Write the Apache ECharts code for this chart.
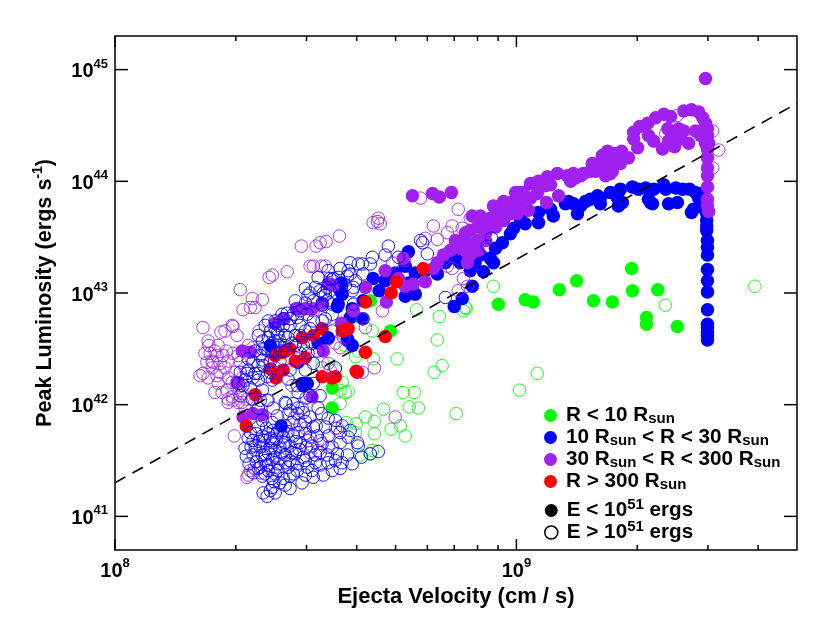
<!DOCTYPE html>
<html>
<head>
<meta charset="utf-8">
<title>Peak Luminosity vs Ejecta Velocity</title>
<script src="https://cdn.jsdelivr.net/npm/echarts@6/dist/echarts.min.js"></script>
<style>
html,body{margin:0;padding:0;background:#fff;}
#chart{width:830px;height:623px;}
</style>
</head>
<body>
<div id="chart"></div>
<script>
// values as [log10 velocity, log10 luminosity]
var greenFilled = [[9.287,43.22],[9.150,43.11],[9.107,43.03],[9.289,43.02],[9.352,43.03],[8.955,42.90],[9.022,42.94],[9.042,42.92],[9.192,42.93],[9.239,42.92],[9.324,42.78],[9.324,42.72],[9.401,42.70],[8.686,42.66],[8.591,42.78],[8.636,42.93],[8.541,42.15],[8.541,41.97]];
var greenOpen = [[8.751,42.85],[8.808,42.79],[8.868,42.84],[8.873,42.87],[8.803,42.58],[8.616,42.77],[8.641,42.66],[8.703,42.41],[8.815,42.35],[8.795,42.29],[8.718,42.11],[8.746,42.11],[8.733,41.98],[8.756,41.97],[8.850,41.92],[8.669,41.96],[8.624,41.89],[8.646,41.85],[8.711,41.81],[8.688,41.78],[8.646,41.74],[8.723,41.72],[8.601,41.83],[8.599,41.75],[8.576,41.84],[8.566,42.20],[8.581,42.12],[8.574,42.11],[8.561,42.13],[8.561,42.01],[8.599,42.43],[8.644,42.41],[8.641,41.59],[8.636,41.56],[8.611,41.55],[8.943,43.06],[8.875,42.86],[9.371,42.89],[9.594,43.06],[9.052,42.28],[9.008,42.13],[8.516,42.39],[8.549,42.31],[8.574,42.53],[8.606,42.48]];
var blueFilled = [[9.474,43.56],[9.476,43.47],[9.476,43.41],[9.476,43.34],[9.476,43.21],[9.476,43.11],[9.476,43.01],[9.476,42.85],[9.476,42.72],[9.476,42.69],[9.476,42.65],[9.476,42.62],[9.476,42.58],[9.474,43.65],[9.474,43.60],[9.474,43.71],[9.466,43.76],[9.454,43.85],
[9.209,43.85],[9.234,43.90],[9.259,43.93],[9.254,43.90],[9.254,43.78],[9.264,43.81],[9.252,43.85],[9.289,43.95],[9.304,43.93],[9.322,43.94],[9.334,43.81],[9.329,43.84],[9.339,43.80],[9.342,43.93],[9.367,43.97],[9.372,43.93],[9.397,43.94],[9.379,43.80],[9.401,43.81],[9.414,43.93],[9.431,43.93],[9.436,43.72],[9.441,43.75],[9.446,43.90],[9.459,43.89],[9.209,43.80],
[9.202,43.87],[9.184,43.84],[9.172,43.82],[9.152,43.71],[9.160,43.78],[9.130,43.82],[9.142,43.80],[9.122,43.80],[9.092,43.69],[9.085,43.75],[9.055,43.63],[9.055,43.72],[9.022,43.62],[9.010,43.66],[8.985,43.53],[8.993,43.58],[8.965,43.45],[8.948,43.40],[8.935,43.31],[8.943,43.27],[8.918,43.19],[8.890,43.06],
[8.731,43.37],[8.723,43.24],[8.848,43.31],[8.823,43.27],[8.803,43.17],[8.748,43.18],[8.731,43.09],[8.748,42.99],[8.723,42.97],[8.643,43.13],[8.658,43.02],[8.865,42.95],[8.845,42.88],[8.564,43.09],[8.566,42.99],[8.554,42.88],[8.618,42.93],[8.618,42.77],[8.591,42.86],[8.586,42.78],[8.531,42.60],[8.579,42.59],[8.561,43.02],[8.556,42.90],[8.454,42.86],[8.581,42.57],[8.506,42.55],[8.479,42.19],[8.466,42.19],[8.414,41.81],[8.469,42.17],[8.387,42.53],[8.424,42.48],[8.456,42.38],[8.673,43.11],[8.698,43.18],[8.773,43.20],[8.885,43.20],[8.897,43.27],[8.910,43.34],[8.860,43.27],[8.591,42.53]];
var blueOpen = [[8.681,43.42],[8.761,43.47],[8.766,43.45],[8.778,43.35],[8.673,43.34],[8.641,43.32],[8.706,43.32],[8.586,43.27],[8.606,43.26],[8.616,43.26],[8.636,43.26],[8.581,43.20],[8.579,43.15],[8.618,43.17],[8.599,43.11],[8.594,43.05],[8.536,43.13],[8.544,43.13],[8.529,43.05],[8.536,43.02],[8.519,43.00],[8.529,42.93],[8.516,42.90],[8.541,42.81],[8.823,42.96],
[8.541,43.12],[8.499,43.05],[8.486,43.00],[8.511,43.02],[8.524,42.98],[8.474,42.91],[8.494,42.93],[8.516,42.89],[8.541,42.90],[8.454,42.78],[8.429,42.82],[8.444,42.81],[8.479,42.81],[8.494,42.75],[8.524,42.77],[8.541,42.66],[8.419,42.71],[8.436,42.71],[8.404,42.64],[8.382,42.60],[8.367,42.57],[8.392,42.55],[8.411,42.57],[8.431,42.60],[8.449,42.62],[8.374,42.50],[8.392,42.48],[8.362,42.44],[8.344,42.38],[8.332,42.31],[8.324,42.22],[8.319,42.17],[8.349,42.28],[8.369,42.35],[8.357,42.22],[8.337,42.15],[8.379,42.25],[8.406,42.62],[8.424,42.53],[8.441,42.55],[8.416,42.48],[8.531,42.59],[8.469,42.53],[8.491,42.55],[8.481,42.46],[8.504,42.48],[8.461,42.46],[8.436,42.31],[8.474,42.31],[8.494,42.37],[8.549,42.33],[8.494,42.19],[8.454,42.17],[8.382,42.75],[8.416,42.81],[8.399,42.75],[8.556,43.14],[8.586,43.17],[8.591,43.02],[8.594,42.90],
[8.426,42.01],[8.444,42.01],[8.456,42.11],[8.404,41.90],[8.454,41.92],[8.469,41.93],[8.486,41.89],[8.441,41.84],[8.461,41.82],[8.494,41.80],[8.514,41.92],[8.524,41.80],[8.357,41.80],[8.337,41.75],[8.382,41.74],[8.404,41.75],[8.344,41.68],[8.324,41.61],[8.369,41.68],[8.392,41.66],[8.419,41.71],[8.444,41.72],[8.474,41.74],[8.504,41.72],[8.531,41.72],[8.561,41.75],[8.581,41.71],[8.604,41.66],[8.561,41.66],[8.541,41.62],[8.516,41.65],[8.491,41.63],[8.461,41.66],[8.436,41.63],[8.411,41.62],[8.387,41.61],[8.362,41.62],[8.344,41.55],[8.374,41.55],[8.399,41.53],[8.424,41.55],[8.449,41.56],[8.469,41.53],[8.499,41.55],[8.529,41.55],[8.554,41.56],[8.579,41.55],[8.606,41.63],[8.591,41.47],[8.566,41.48],[8.561,41.43],[8.541,41.41],[8.519,41.37],[8.499,41.48],[8.479,41.44],[8.474,41.50],[8.454,41.47],[8.431,41.44],[8.406,41.47],[8.382,41.46],[8.357,41.43],[8.344,41.39],[8.374,41.38],[8.399,41.38],[8.419,41.34],[8.444,41.38],[8.466,41.30],[8.494,41.35],[8.436,41.25],[8.411,41.30],[8.392,41.34],[8.387,41.23],[8.369,41.21],[8.399,41.21],[8.379,41.18],[8.392,41.26],[8.424,41.28],[8.362,41.44],[8.656,41.58],[8.636,41.56],[8.614,41.53],
[8.367,41.72],[8.387,41.70],[8.411,41.77],[8.424,41.66],[8.399,41.59],[8.374,41.50],[8.349,41.63],[8.382,41.57],[8.416,41.57],[8.436,41.50],[8.406,41.41],[8.329,42.28],[8.357,42.28],[8.344,42.24],[8.307,42.19],[8.379,42.04],[8.424,42.02],[8.357,41.97],[8.456,41.97],[8.938,43.49],[8.928,43.42],[8.399,42.57],[8.382,42.48],[8.406,42.53],[8.424,42.62],[8.399,42.68],[8.367,42.50],[8.357,42.35],[8.387,42.39],
[8.332,41.70],[8.352,41.74],[8.359,41.67],[8.377,41.79],[8.394,41.77],[8.402,41.69],[8.419,41.64],[8.431,41.76],[8.451,41.67],[8.459,41.60],[8.476,41.62],[8.441,41.57],[8.424,41.48],[8.392,41.51],[8.367,41.55],[8.352,41.49],[8.334,41.47],[8.327,41.54],[8.339,41.62],[8.382,41.41],[8.396,41.31],[8.367,41.36],[8.436,41.36],[8.454,41.41],[8.474,41.37],[8.491,41.41],[8.511,41.46],[8.531,41.48],[8.511,41.57],[8.549,41.50],[8.486,41.71],[8.456,41.75],[8.501,41.81],[8.474,41.85],[8.424,41.81],[8.392,41.84],[8.367,41.86],[8.549,41.86],[8.531,41.88],[8.566,41.81],[8.586,41.77],[8.506,41.97],[8.476,42.06],[8.436,41.95],[8.394,41.97],[8.362,42.04],
[8.312,42.29],[8.332,42.41],[8.349,42.48],[8.367,42.40],[8.387,42.66],[8.374,42.71],[8.357,42.62],[8.406,42.71],[8.421,42.77],[8.436,42.77],[8.461,42.71],[8.474,42.66],[8.449,42.53],[8.461,42.62],[8.486,42.68],[8.509,42.62],[8.516,42.75],[8.481,42.98],[8.461,42.84],[8.561,43.22],[8.574,43.07],[8.531,43.20],[8.506,43.14],[8.474,43.04],[8.449,42.93],[8.399,42.47],[8.387,42.29],[8.411,42.39],[8.392,42.22],[8.431,42.23],[8.511,42.08],[8.486,42.08],[8.367,42.13],[8.312,42.08],[8.342,42.05]];
var purpleFilled = [[9.471,44.92],[9.417,44.63],[9.436,44.64],[9.454,44.62],[9.464,44.57],[9.471,44.52],[9.476,44.47],[9.476,44.41],[9.479,44.34],[9.476,44.29],[9.476,44.21],[9.476,44.12],[9.476,44.05],[9.476,43.95],[9.476,43.84],[9.476,43.78],[9.479,43.73],
[9.384,44.58],[9.367,44.60],[9.347,44.57],[9.327,44.52],[9.307,44.49],[9.292,44.44],[9.292,44.38],[9.302,44.30],[9.279,44.21],[9.262,44.27],[9.242,44.25],[9.227,44.27],[9.214,44.21],[9.234,44.07],[9.239,44.16],[9.217,44.12],[9.252,44.18],[9.209,44.16],[9.329,44.41],[9.342,44.36],[9.377,44.47],[9.379,44.36],[9.394,44.31],[9.364,44.29],[9.404,44.47],[9.417,44.45],[9.409,44.38],[9.429,44.34],[9.397,44.41],[9.446,44.45],[9.459,44.41],[9.471,44.34],
[9.214,44.23],[9.189,44.16],[9.167,44.07],[9.142,44.07],[9.127,44.05],[9.102,44.07],[9.077,44.04],[9.055,44.00],[9.035,43.98],[9.105,43.87],[9.075,43.81],[9.030,43.74],[8.998,43.90],[8.985,43.81],[8.968,43.82],[8.943,43.78],[8.910,43.69],[8.890,43.69],[9.010,43.81],[9.052,43.89],[9.017,43.90],[9.085,43.97],[9.135,44.00],[8.960,43.74],[8.935,43.67],[8.985,43.71],[9.002,43.71],[8.968,43.65],[8.948,43.59],[8.928,43.63],[8.903,43.59],[8.885,43.56],[8.903,43.47],[8.923,43.53],[8.893,43.38],[8.885,43.44],
[8.741,43.87],[8.791,43.89],[8.808,43.86],[8.838,43.90],[8.865,43.47],[8.878,43.43],[8.860,43.40],[8.880,43.34],[8.878,43.27],[8.803,43.27],[8.793,43.22],[8.773,43.10],[8.743,43.08],[8.723,43.06],[8.706,43.13],[8.673,43.20],[8.718,43.31],[8.676,42.92],[8.624,43.05],[8.594,42.84],[8.531,43.08],[8.544,43.07],[8.516,42.91],[8.564,42.73],[8.519,42.48],[8.451,42.86],[8.474,42.86],[8.317,42.48],[8.337,42.47],[8.399,42.73],[8.419,42.77],[8.491,42.86],[8.304,42.20],[8.319,41.89],[8.367,41.91],[8.344,41.92],[8.491,42.07],
[9.160,44.05],[9.185,44.09],[9.147,44.03],[9.072,43.96],[9.010,43.90],[9.035,43.85],[8.998,43.76],[8.973,43.78],[8.948,43.69],[8.910,43.60],[8.923,43.47],[8.905,43.38],[8.885,43.34],[8.873,43.54],[8.848,43.47],[8.835,43.38],[8.818,43.34],[9.234,44.18],[9.259,44.16],[9.222,44.05],[9.197,44.09],[9.239,44.09]];
var purpleOpen = [[8.464,43.42],[8.501,43.42],[8.511,43.45],[8.486,43.24],[8.494,43.24],[8.429,43.19],[8.384,43.14],[8.312,43.03],[8.342,42.95],[8.367,42.94],[8.319,42.85],[8.337,42.87],[8.349,42.87],[8.219,42.69],[8.264,42.65],[8.294,42.70],[8.304,42.62],[8.359,42.66],[8.232,42.57],[8.643,43.63],[8.656,43.67],[8.661,43.62],[8.654,43.64],[8.559,43.51],[8.526,43.46],[8.514,43.24],[8.524,43.24],[8.392,43.16],[8.761,43.85],[8.855,43.75],[8.885,43.67],[8.793,43.60],[8.840,43.60],[8.865,43.58],[8.828,43.54],[8.773,43.49],[8.803,43.48],[8.721,43.29],[8.691,43.27],[8.666,42.84],[8.616,42.77],[8.624,42.69],[8.840,43.22],[8.828,43.24],[8.868,43.13],[8.855,43.02],[8.878,43.06],[8.646,42.33],[8.616,42.29],[8.698,41.89],[8.561,42.51],[8.536,42.31],[8.554,41.79],
[8.234,42.53],[8.257,42.53],[8.237,42.46],[8.254,42.44],[8.229,42.38],[8.244,42.38],[8.262,42.37],[8.242,42.33],[8.262,42.29],[8.219,42.28],[8.274,42.33],[8.232,42.24],[8.254,42.26],[8.282,42.24],[8.257,42.19],[8.292,42.20],[8.279,42.13],[8.304,42.15],[8.292,42.07],[8.317,42.10],[8.282,42.02],[8.307,42.02],[8.329,42.05],[8.317,42.24],[8.297,41.72],[8.324,42.33],[8.312,42.38],[8.344,42.51],[8.294,42.46],[8.267,42.11],[8.307,42.44],[8.249,42.48],[8.242,42.39],[8.269,42.44],
[8.329,41.35],[8.337,41.41],[8.332,41.37],[8.369,41.63],[8.394,41.68],[8.419,41.77],[8.431,41.92],[8.466,41.97],[8.374,41.71],[8.481,41.68],[8.506,41.59],[8.531,41.62],[8.486,41.57],[8.549,41.79],[8.441,41.48],[8.399,41.44],[8.362,41.39],[8.349,41.59],[8.294,42.04],[8.317,42.02],[8.282,42.05],[8.382,42.04],
[8.292,42.71],[8.274,42.66],[8.332,42.53],[8.516,42.33],[8.456,42.41],[8.474,42.48],[8.441,42.17],[8.531,42.37],[8.549,42.55],[8.569,42.60],[8.399,42.33],[8.494,42.84],[9.401,44.59],[9.489,44.45],[9.372,44.43],[9.504,44.28],[9.489,44.12],
[8.282,42.39],[8.299,42.29],[8.277,42.48],[8.312,42.17],[8.224,42.46],[8.212,42.26],[8.249,42.11],[8.324,41.97],[8.446,41.88],[8.511,41.68],[8.411,41.52],[8.377,41.46],[8.347,41.43],[8.451,41.59],[8.474,41.79]];
var redFilled = [[8.516,42.68],[8.581,42.68],[8.566,42.66],[8.494,42.62],[8.466,42.60],[8.436,42.50],[8.419,42.47],[8.399,42.44],[8.449,42.39],[8.474,42.42],[8.387,42.32],[8.419,42.31],[8.401,42.24],[8.516,42.25],[8.541,42.24],[8.604,42.29],[8.349,42.09],[8.327,41.81],[8.768,43.22],[8.701,43.10],[8.688,43.00],[8.624,42.92],[8.673,42.61],[8.624,42.47],[8.601,42.30],[8.549,42.25]];

var fitLine = [[1e8,2e41],[5e9,5e44]];
var xMajorTicks = [1e8,1e9];
var xMinorTicks = [2e8,3e8,4e8,5e8,6e8,7e8,8e8,9e8,2e9,3e9,4e9];
var yMajorTicks = [1e41,1e42,1e43,1e44,1e45];

var xMin = 1e8, xMax = 5e9, yMin = 5e40, yMax = 2e45;

var GREEN = '#00ff00', BLUE = '#0000ff', PURPLE = '#a020f0', RED = '#ff0000';
var FONT = '"Liberation Sans", Arial, sans-serif';

function toValues(list) {
    return list.map(function (p) { return [Math.pow(10, p[0]), Math.pow(10, p[1])]; });
}

function filledSeries(name, list, color) {
    return {
        name: name, type: 'scatter', data: toValues(list), symbol: 'circle', symbolSize: 13.5,
        itemStyle: { color: color, opacity: 1 }, silent: true
    };
}

function openSeries(name, list, color) {
    return {
        name: name, type: 'scatter', data: toValues(list), symbol: 'circle', symbolSize: 12.5,
        itemStyle: { color: 'transparent', borderColor: color, borderWidth: 0.9, opacity: 1 }, silent: true
    };
}

// tick marks are drawn inward from the frame, x ticks on both bottom and top
function tickSeries(values, horizontal, len) {
    return {
        type: 'custom', silent: true, z: 10, clip: false,
        data: values.map(function (v) { return horizontal ? [xMin, v] : [v, yMin]; }),
        renderItem: function (params, api) {
            var sys = params.coordSys;
            var p = api.coord([api.value(0), api.value(1)]);
            var style = { stroke: '#000', lineWidth: 1.5 };
            if (horizontal) {
                return { type: 'group', children: [
                    { type: 'line', shape: { x1: sys.x, y1: p[1], x2: sys.x + len, y2: p[1] }, style: style },
                    { type: 'line', shape: { x1: sys.x + sys.width, y1: p[1], x2: sys.x + sys.width - len, y2: p[1] }, style: style }
                ] };
            }
            return { type: 'group', children: [
                { type: 'line', shape: { x1: p[0], y1: sys.y + sys.height, x2: p[0], y2: sys.y + sys.height - len }, style: style },
                { type: 'line', shape: { x1: p[0], y1: sys.y, x2: p[0], y2: sys.y + len }, style: style }
            ] };
        }
    };
}

function powerLabel(value) {
    var e = Math.log10(value);
    if (Math.abs(e - Math.round(e)) > 1e-6) return '';
    return '{b|10}{s|' + Math.round(e) + '}';
}

var powerRich = {
    b: { fontFamily: FONT, fontWeight: 'bold', fontSize: 20, lineHeight: 20, verticalAlign: 'bottom', color: '#000' },
    s: { fontFamily: FONT, fontWeight: 'bold', fontSize: 13, lineHeight: 13, padding: [0, 0, 11, 0], verticalAlign: 'bottom', color: '#000' }
};

var legendRich = {
    t: { fontFamily: FONT, fontWeight: 'bold', fontSize: 20.7, lineHeight: 21, verticalAlign: 'bottom', color: '#000' },
    d: { fontFamily: FONT, fontWeight: 'bold', fontSize: 15, lineHeight: 15, padding: [8, 0, 0, 0], verticalAlign: 'bottom', color: '#000' },
    u: { fontFamily: FONT, fontWeight: 'bold', fontSize: 15, lineHeight: 15, padding: [0, 0, 9, 0], verticalAlign: 'bottom', color: '#000' }
};

var legendText = {
    'R < 10': '{t|R < 10 R}{d|sun}',
    '10 < R < 30': '{t|10 R}{d|sun}{t| < R < 30 R}{d|sun}',
    '30 < R < 300': '{t|30 R}{d|sun}{t| < R < 300 R}{d|sun}',
    'R > 300': '{t|R > 300 R}{d|sun}',
    'E < 1e51': '{t|E < 10}{u|51}{t| ergs}',
    'E > 1e51': '{t|E > 10}{u|51}{t| ergs}'
};

var chart = echarts.init(document.getElementById('chart'));
chart.setOption({
    animation: false,
    backgroundColor: '#fff',
    grid: { left: 115, right: 33, top: 36, bottom: 73, show: true, borderColor: '#000', borderWidth: 1.5, backgroundColor: 'transparent' },
    xAxis: {
        type: 'log', logBase: 10, min: xMin, max: xMax,
        name: 'Ejecta Velocity (cm / s)', nameLocation: 'middle', nameGap: 35,
        nameTextStyle: { fontFamily: FONT, fontWeight: 'bold', fontSize: 22, color: '#000' },
        axisLine: { show: false }, axisTick: { show: false }, splitLine: { show: false }, minorTick: { show: false },
        axisLabel: { formatter: powerLabel, rich: powerRich, margin: 11, hideOverlap: false, showMinLabel: true, showMaxLabel: false }
    },
    yAxis: {
        type: 'log', logBase: 10, min: yMin, max: yMax,
        name: '{t|Peak Luminosity (ergs s}{u|-1}{t|)}', nameLocation: 'middle', nameGap: 59, nameRotate: 90,
        nameTextStyle: { rich: {
            t: { fontFamily: FONT, fontWeight: 'bold', fontSize: 21.6, lineHeight: 22, verticalAlign: 'bottom', color: '#000' },
            u: { fontFamily: FONT, fontWeight: 'bold', fontSize: 14, lineHeight: 14, padding: [0, 0, 11, 0], verticalAlign: 'bottom', color: '#000' }
        } },
        axisLine: { show: false }, axisTick: { show: false }, splitLine: { show: false }, minorTick: { show: false },
        axisLabel: { formatter: powerLabel, rich: powerRich, margin: 7, padding: [4, 0, 0, 0], hideOverlap: false }
    },
    legend: [{
        orient: 'vertical', left: 544, top: 403, padding: 0, itemGap: -1, itemWidth: 13, itemHeight: 13,
        icon: 'circle', selectedMode: false, align: 'left',
        data: ['R < 10', '10 < R < 30', '30 < R < 300', 'R > 300'],
        formatter: function (name) { return legendText[name]; },
        textStyle: { rich: legendRich, padding: [0, 0, 0, 4] }
    }, {
        orient: 'vertical', left: 544, top: 497, padding: 0, itemGap: -2, itemWidth: 13, itemHeight: 13,
        icon: 'circle', selectedMode: false, align: 'left',
        data: [
            { name: 'E < 1e51', itemStyle: { color: '#000', opacity: 1 } },
            { name: 'E > 1e51', itemStyle: { color: '#fff', borderColor: '#000', borderWidth: 1.5, opacity: 1 } }
        ],
        formatter: function (name) { return legendText[name]; },
        textStyle: { rich: legendRich, padding: [0, 0, 0, 4] }
    }],
    series: [
        filledSeries('R < 10', greenFilled, GREEN),
        openSeries('green open', greenOpen, GREEN),
        filledSeries('10 < R < 30', blueFilled, BLUE),
        filledSeries('30 < R < 300', purpleFilled, PURPLE),
        filledSeries('R > 300', redFilled, RED),
        openSeries('purple open', purpleOpen, PURPLE),
        openSeries('blue open', blueOpen, BLUE),
        { name: 'E < 1e51', type: 'scatter', data: [], itemStyle: { color: '#000', opacity: 1 } },
        { name: 'E > 1e51', type: 'scatter', data: [], itemStyle: { color: '#fff', borderColor: '#000', opacity: 1 } },
        {
            type: 'line', data: fitLine, symbol: 'none', silent: true, z: 5,
            lineStyle: { color: '#000', width: 1.6, type: [12, 8] }
        },
        tickSeries(xMajorTicks, false, 11),
        tickSeries(xMinorTicks, false, 5),
        tickSeries(yMajorTicks, true, 13)
    ]
});
</script>
</body>
</html>
